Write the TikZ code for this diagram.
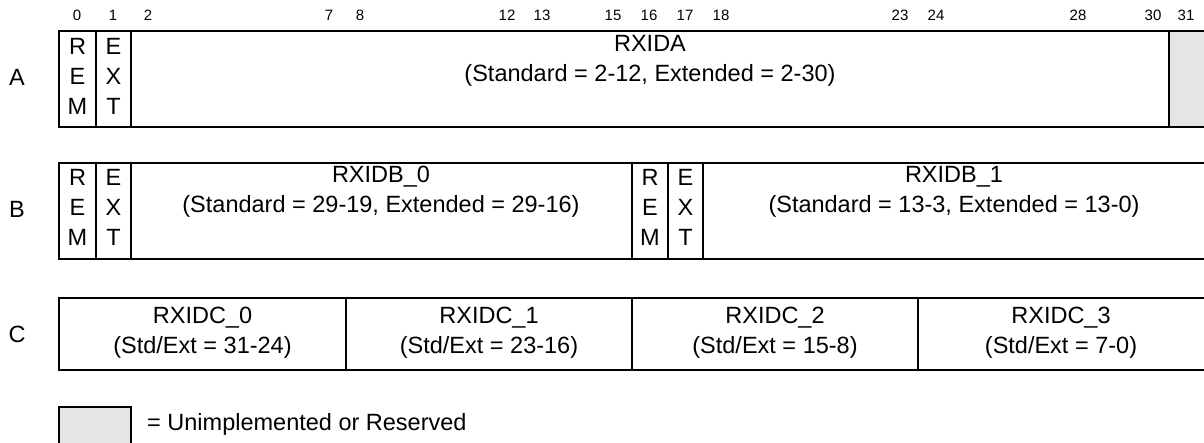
\documentclass[tikz,border=0pt]{standalone}
\usepackage{fontspec}
\setmainfont{Liberation Sans}
\definecolor{resv}{gray}{0.898}
\tikzset{
  cell/.style={draw=black, line width=2pt},
  resvfill/.style={fill=resv},
  big/.style={font=\fontsize{23.5}{30}\selectfont, inner sep=0pt, align=center},
  bitnum/.style={font=\fontsize{15}{17}\selectfont, inner sep=0pt},
  rowlbl/.style={font=\fontsize{23.5}{26}\selectfont, inner sep=0pt}
}
\begin{document}
\begin{tikzpicture}[x=1pt,y=-1pt]
\useasboundingbox (0,0) rectangle (1204,442);
\clip (0,0) rectangle (1204,442);
% bit numbers
\foreach \b/\x in {0/77,1/113,2/148,7/329,8/360,12/507,13/542,15/613,16/649,17/685,18/721,23/900,24/936,28/1078,30/1153,31/1186}
  \node[bitnum] (bit\b) at (\x,15) {\b};
% row labels
\node[rowlbl] (lblA) at (17,77) {A};
\node[rowlbl] (lblB) at (17,209) {B};
\node[rowlbl] (lblC) at (17,334) {C};
% row A
\fill[resvfill] (1169,31) rectangle (1215,127);
\draw[cell] (59,31) rectangle (1215,127);
\draw[cell] (96,31) -- (96,127) (131,31) -- (131,127) (1169,31) -- (1169,127);
\node[big] (remA) at (77.5,76) {R\\E\\M};
\node[big] (extA) at (113.5,76) {E\\X\\T};
\node[big] (rxida) at (650,61) {RXIDA\\(Standard = 2-12, Extended = 2-30)};
% row B
\draw[cell] (59,163) rectangle (1215,259);
\draw[cell] (96,163) -- (96,259) (131,163) -- (131,259)
  (632,163) -- (632,259) (668,163) -- (668,259) (703,163) -- (703,259);
\node[big] (remB0) at (77.5,207) {R\\E\\M};
\node[big] (extB0) at (113.5,207) {E\\X\\T};
\node[big] (rxidb0) at (381,192) {RXIDB\_0\\(Standard = 29-19, Extended = 29-16)};
\node[big] (remB1) at (650,207) {R\\E\\M};
\node[big] (extB1) at (685.5,207) {E\\X\\T};
\node[big] (rxidb1) at (954,192) {RXIDB\_1\\(Standard = 13-3, Extended = 13-0)};
% row C
\draw[cell] (59,298) rectangle (1215,370);
\draw[cell] (346,298) -- (346,370) (632,298) -- (632,370) (918,298) -- (918,370);
\node[big] (rxidc0) at (202.5,333) {RXIDC\_0\\(Std/Ext = 31-24)};
\node[big] (rxidc1) at (489,333) {RXIDC\_1\\(Std/Ext = 23-16)};
\node[big] (rxidc2) at (775,333) {RXIDC\_2\\(Std/Ext = 15-8)};
\node[big] (rxidc3) at (1061,333) {RXIDC\_3\\(Std/Ext = 7-0)};
% legend
\fill[resvfill] (59,407) rectangle (131,450);
\draw[cell] (59,407) rectangle (131,450);
\node[big, anchor=west] (legtxt) at (147,424) {= Unimplemented or Reserved};
\end{tikzpicture}
\end{document}
